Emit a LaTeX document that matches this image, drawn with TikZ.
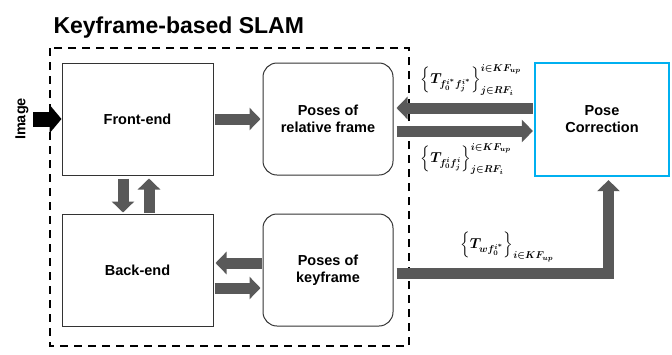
\documentclass[tikz,border=0pt]{standalone}
\usepackage{fontspec}
\setmainfont{Liberation Sans}
\usepackage{amsmath,bm}
\usetikzlibrary{arrows.meta}
\usetikzlibrary{positioning}
\definecolor{arrgray}{HTML}{595959}
\definecolor{pccyan}{HTML}{00B0F0}
\tikzset{
  block/.style={draw=black!80, line width=1pt, minimum width=151pt, minimum height=112pt,
    align=center, font=\fontsize{14.5}{17}\selectfont\bfseries},
  roundblock/.style={block, rounded corners=14pt, minimum width=130pt},
  garrow/.style={draw=arrgray, line width=11pt, -{Triangle[length=11pt,width=22pt]}},
  tlabel/.style={font=\fontsize{14}{16}\selectfont\boldmath},
}

\begin{document}
\begin{tikzpicture}[x=1pt,y=-1pt,>=Stealth]
    \useasboundingbox (0,0) rectangle (672,354);
    \node[anchor=base west, font=\fontsize{23}{26}\selectfont\bfseries] (title) at (50,33) {Keyframe-based SLAM};
    \draw[line width=2.5pt, dash pattern=on 8pt off 6pt] (50,48) rectangle (409,346);

    \node[block] (front) at (137.5,119) {Front-end};
    \node[roundblock] (rel) at (328,119) {Poses of\\relative frame};
    \node[block] (back) at (137.5,270) {Back-end};
    \node[roundblock] (key) at (328,270) {Poses of\\keyframe};
    \node[block, draw=pccyan, line width=2.2pt, minimum width=134pt, minimum height=113pt] (pc) at (602,119.5) {Pose\\Correction};
    \node[rotate=90, font=\fontsize{14.5}{17}\selectfont\bfseries] (image) at (22,119) {Image};

    % input
    \draw[line width=15pt, -{Triangle[length=12pt,width=28pt]}] (image) ++(11,0) coordinate (imgstart) -- (front.west);

    % front-end / back-end
    \draw[garrow, shorten <=1pt, shorten >=2pt] (front.east) -- (rel.west);
    \draw[garrow, shorten <=3pt, shorten >=1pt] ([xshift=-14.5pt]front.south) -- ([xshift=-14.5pt]front.south |- back.north);
    \draw[garrow, shorten <=1pt, shorten >=3pt] ([xshift=11.5pt]back.north) -- ([xshift=11.5pt]back.north |- front.south);
    \draw[garrow, shorten <=1pt, shorten >=2pt] ([yshift=7pt]key.west) -- ([yshift=7pt]key.west -| back.east);
    \draw[garrow, shorten <=1pt, shorten >=2pt] ([yshift=-18pt]back.east) -- ([yshift=-18pt]back.east -| key.west);

    % pose correction
    \draw[garrow, shorten <=1pt, shorten >=3pt] ([yshift=11.5pt]pc.west) -- ([yshift=11.5pt]pc.west -| rel.east);
    \draw[garrow, shorten <=3pt, shorten >=1pt] ([yshift=-12pt]rel.east) -- ([yshift=-12pt]rel.east -| pc.west);
    \draw[garrow, line join=miter, shorten <=3pt, shorten >=3pt] ([yshift=-3.5pt]key.east) -| ([xshift=6.5pt]pc.south);

    \node[tlabel] (lab1) at (471,80) {$\left\{\bm{T}_{f_0^{i^*}f_j^{i^*}}\right\}_{j\in RF_i}^{i\in KF_{up}}$};
    \node[tlabel] (lab2) at (466,159) {$\left\{\bm{T}_{f_0^{i}f_j^{i}}\right\}_{j\in RF_i}^{i\in KF_{up}}$};
    \node[tlabel] (lab3) at (507,247) {$\left\{\bm{T}_{wf_0^{i^*}}\right\}_{i\in KF_{up}}$};
  \end{tikzpicture}
\end{document}
